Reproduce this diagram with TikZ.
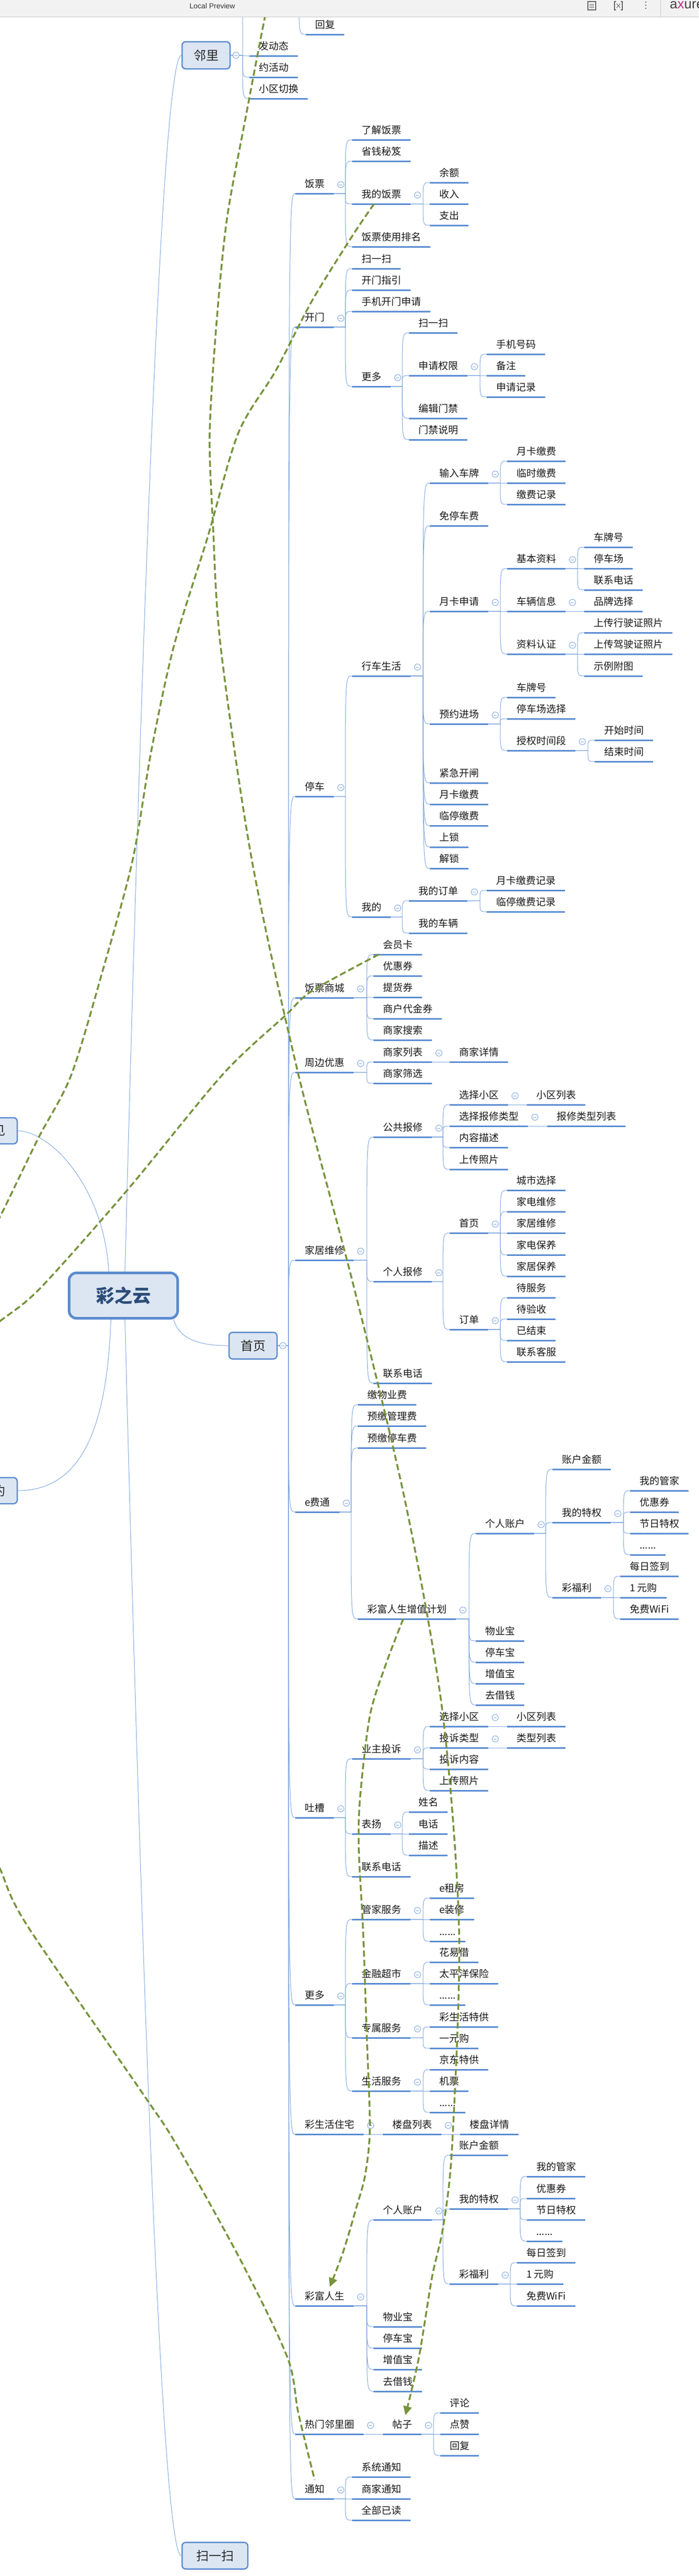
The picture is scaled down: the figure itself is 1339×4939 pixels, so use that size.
\documentclass[tikz,border=0pt]{standalone}
\usepackage{fontspec}
\setmainfont{Noto Sans CJK SC}
\newfontfamily\uifont{Liberation Sans}
\usetikzlibrary{arrows.meta}

\definecolor{ulblue}{HTML}{5A8CD2}
\definecolor{lnblue}{HTML}{80A8DE}
\definecolor{boxfill}{HTML}{DCE6F2}
\definecolor{boxline}{HTML}{5B8BD0}
\definecolor{roottext}{HTML}{2C4C78}
\definecolor{relgreen}{HTML}{77933C}
\definecolor{barfill}{HTML}{F2F2F2}
\definecolor{barline}{HTML}{C6C6C6}

\tikzset{
  topic/.style={anchor=south west, inner xsep=18pt, inner ysep=9pt, text height=16pt, text depth=2pt,
    font=\fontsize{19}{23}\selectfont, text=black!90,
    append after command={(\tikzlastnode.south west) edge[uline] (\tikzlastnode.south east)}},
  uline/.style={draw=ulblue, line width=3pt},
  conn/.style={draw=lnblue, line width=1pt},
  mainbox/.style={rectangle, rounded corners=7pt, draw=boxline, line width=2.5pt, fill=boxfill,
    font=\fontsize{24}{28}\selectfont, text=black!85},
  rootbox/.style={rectangle, rounded corners=14pt, draw=boxline, line width=5pt, fill=boxfill,
    minimum width=208pt, minimum height=87pt, font=\fontsize{35}{40}\selectfont\bfseries, text=roottext},
  fold/.style={draw=lnblue, fill=white, line width=1pt},
  rel/.style={draw=relgreen, line width=3.5pt, dash pattern=on 12pt off 6pt},
}

% parent -> child: along the underline, down the spine, curve into the child
\newcommand{\topiclink}[2]{\draw[conn] (#1) -- ([xshift=-13pt]#2.south west |- #1) .. controls ([xshift=-13pt]#2.south west) .. (#2.south west);}
% collapse button beside a parent topic
\newcommand{\foldmark}[1]{\draw[fold] ([shift={(13pt,17pt)}]#1.south east) circle[radius=6pt];
  \draw[draw=lnblue, line width=1pt] ([shift={(10pt,17pt)}]#1.south east) -- ++(6pt,0);}

\begin{document}
\begin{tikzpicture}[x=1pt, y=-1pt]
\clip (0,0) rectangle (1339,4939);
\fill[white] (0,0) rectangle (1339,4939);

% root and first level boxes
\node (root) [rootbox] at (236.5,2484) {彩之云};
\node (linli) [mainbox, minimum width=92pt, minimum height=52pt] at (395,106) {邻里};
\node (shouye) [mainbox, minimum width=92pt, minimum height=51pt] at (485,2580) {首页};
\node (saoyisao) [mainbox, minimum width=126pt, minimum height=51pt] at (412,4900) {扫一扫};
\node (yijian) [mainbox, minimum width=92pt, minimum height=50pt] at (-13,2168) {\hphantom{见}见};
\node (yuyue) [mainbox, minimum width=92pt, minimum height=50pt] at (-13,2858) {\hphantom{约}约};

% 邻里
\coordinate (lnhide) at (478,-40);
\node (fadongtai) [topic] at (478,107) {发动态};
\node (yuehuodong) [topic] at (478,148) {约活动};
\node (qiehuan) [topic] at (478,189) {小区切换};
\coordinate (tzhide) at (545,-30);
\node (huifutop) [topic] at (586,66) {回复};

% 饭票
\node (fanpiao) [topic] at (566,371) {饭票};
\node (liaojie) [topic] at (675,268) {了解饭票};
\node (shengqian) [topic] at (675,309) {省钱秘笈};
\node (wodefp) [topic] at (675,391) {我的饭票};
\node (paiming) [topic] at (675,473) {饭票使用排名};
\node (yuee) [topic] at (824,350) {余额};
\node (shouru) [topic] at (824,391) {收入};
\node (zhichu) [topic] at (824,432) {支出};

% 开门
\node (kaimen) [topic] at (566,627) {开门};
\node (kmsao) [topic] at (675,515) {扫一扫};
\node (kmzhiyin) [topic] at (675,556) {开门指引};
\node (kmshouji) [topic] at (675,597) {手机开门申请};
\node (kmmore) [topic] at (675,741) {更多};
\node (kmsao2) [topic] at (784,638) {扫一扫};
\node (quanxian) [topic] at (784,720) {申请权限};
\node (bianji) [topic] at (784,802) {编辑门禁};
\node (shuoming) [topic] at (784,843) {门禁说明};
\node (haoma) [topic] at (933,679) {手机号码};
\node (beizhu) [topic] at (933,720) {备注};
\node (sqjilu) [topic] at (933,761) {申请记录};

% 停车
\node (tingche) [topic] at (566,1527) {停车};
\node (xingche) [topic] at (675,1296) {行车生活};
\node (wode) [topic] at (675,1758) {我的};
\node (shuru) [topic] at (824,926) {输入车牌};
\node (mianting) [topic] at (824,1008) {免停车费};
\node (ykshenqing) [topic] at (824,1172) {月卡申请};
\node (yuyuejc) [topic] at (824,1388) {预约进场};
\node (jinji) [topic] at (824,1501) {紧急开闸};
\node (ykjiaofei) [topic] at (824,1542) {月卡缴费};
\node (ltjiaofei) [topic] at (824,1583) {临停缴费};
\node (shangsuo) [topic] at (824,1624) {上锁};
\node (jiesuo) [topic] at (824,1665) {解锁};
\node (srykjf) [topic] at (972,884) {月卡缴费};
\node (srlsjf) [topic] at (972,926) {临时缴费};
\node (srjfjl) [topic] at (972,967) {缴费记录};
\node (jiben) [topic] at (972,1090) {基本资料};
\node (cheliang) [topic] at (972,1172) {车辆信息};
\node (renzheng) [topic] at (972,1254) {资料认证};
\node (jbchepai) [topic] at (1120,1049) {车牌号};
\node (jbtcc) [topic] at (1120,1090) {停车场};
\node (jbdianhua) [topic] at (1120,1131) {联系电话};
\node (pinpai) [topic] at (1120,1172) {品牌选择};
\node (xingshi) [topic] at (1120,1213) {上传行驶证照片};
\node (jiashi) [topic] at (1120,1254) {上传驾驶证照片};
\node (shili) [topic] at (1120,1296) {示例附图};
\node (yychepai) [topic] at (972,1337) {车牌号};
\node (yytcc) [topic] at (972,1378) {停车场选择};
\node (shouquan) [topic] at (972,1439) {授权时间段};
\node (kaishi) [topic] at (1140,1419) {开始时间};
\node (jieshu) [topic] at (1140,1460) {结束时间};
\node (wddingdan) [topic] at (784,1727) {我的订单};
\node (wdcheliang) [topic] at (784,1789) {我的车辆};
\node (ykjilu) [topic] at (933,1707) {月卡缴费记录};
\node (ltjilu) [topic] at (933,1748) {临停缴费记录};

% 饭票商城
\node (fpshop) [topic] at (566,1913) {饭票商城};
\node (huiyuan) [topic] at (716,1830) {会员卡};
\node (youhui) [topic] at (716,1871) {优惠券};
\node (tihuo) [topic] at (716,1912) {提货券};
\node (daijin) [topic] at (716,1953) {商户代金券};
\node (sousuo) [topic] at (716,1994) {商家搜索};

% 周边优惠
\node (zhoubian) [topic] at (566,2056) {周边优惠};
\node (sjliebiao) [topic] at (716,2036) {商家列表};
\node (shaixuan) [topic] at (716,2077) {商家筛选};
\node (sjxiangqing) [topic] at (862,2036) {商家详情};

% 家居维修
\node (jiaju) [topic] at (566,2416) {家居维修};
\node (gonggong) [topic] at (716,2180) {公共报修};
\node (geren) [topic] at (716,2457) {个人报修};
\node (jjdianhua) [topic] at (716,2652) {联系电话};
\node (ggxiaoqu) [topic] at (862,2118) {选择小区};
\node (ggleixing) [topic] at (862,2159) {选择报修类型};
\node (ggneirong) [topic] at (862,2200) {内容描述};
\node (ggzhaopian) [topic] at (862,2242) {上传照片};
\node (ggxqlist) [topic] at (1010,2118) {小区列表};
\node (gglxlist) [topic] at (1049,2159) {报修类型列表};
\node (grshouye) [topic] at (862,2364) {首页};
\node (grdingdan) [topic] at (862,2549) {订单};
\node (chengshi) [topic] at (972,2282) {城市选择};
\node (jdweixiu) [topic] at (972,2323) {家电维修};
\node (jjweixiu) [topic] at (972,2364) {家居维修};
\node (jdbaoyang) [topic] at (972,2406) {家电保养};
\node (jjbaoyang) [topic] at (972,2447) {家居保养};
\node (daifuwu) [topic] at (972,2488) {待服务};
\node (daiyanshou) [topic] at (972,2529) {待验收};
\node (yijieshu) [topic] at (972,2570) {已结束};
\node (kefu) [topic] at (972,2611) {联系客服};

% e费通
\node (efeitong) [topic] at (566,2899) {e费通};
\node (wuyefei) [topic] at (686,2693) {缴物业费};
\node (guanlifei) [topic] at (686,2734) {预缴管理费};
\node (tingchefei) [topic] at (686,2776) {预缴停车费};
\node (zengzhi) [topic] at (686,3104) {彩富人生增值计划};
\node (zhanghu) [topic] at (912,2940) {个人账户};
\node (wuyebao) [topic] at (912,3146) {物业宝};
\node (tingchebao) [topic] at (912,3187) {停车宝};
\node (zengzhibao) [topic] at (912,3228) {增值宝};
\node (jieqian) [topic] at (912,3269) {去借钱};
\node (jine) [topic] at (1059,2817) {账户金额};
\node (tequan) [topic] at (1059,2919) {我的特权};
\node (fuli) [topic] at (1059,3063) {彩福利};
\node (guanjia) [topic] at (1208,2858) {我的管家};
\node (tqyouhui) [topic] at (1208,2899) {优惠券};
\node (jieri) [topic] at (1208,2940) {节日特权};
\node (tqmore) [topic] at (1208,2981) {......};
\node (qiandao) [topic] at (1189,3022) {每日签到};
\node (yiyuan) [topic] at (1189,3063) {1 元购};
\node (wifi) [topic] at (1189,3104) {免费WiFi};

% 吐槽
\node (tucao) [topic] at (566,3485) {吐槽};
\node (tousu) [topic] at (675,3372) {业主投诉};
\node (biaoyang) [topic] at (675,3516) {表扬};
\node (tcdianhua) [topic] at (675,3598) {联系电话};
\node (tsxiaoqu) [topic] at (824,3310) {选择小区};
\node (tsleixing) [topic] at (824,3351) {投诉类型};
\node (tsneirong) [topic] at (824,3392) {投诉内容};
\node (tszhaopian) [topic] at (824,3433) {上传照片};
\node (tsxqlist) [topic] at (972,3310) {小区列表};
\node (tslxlist) [topic] at (972,3351) {类型列表};
\node (xingming) [topic] at (784,3474) {姓名};
\node (byphone) [topic] at (784,3516) {电话};
\node (bymiaoshu) [topic] at (784,3557) {描述};

% 更多
\node (gengduo) [topic] at (566,3844) {更多};
\node (guanjiafw) [topic] at (675,3680) {管家服务};
\node (jinrong) [topic] at (675,3803) {金融超市};
\node (zhuanshu) [topic] at (675,3907) {专属服务};
\node (shenghuo) [topic] at (675,4009) {生活服务};
\node (zufang) [topic] at (824,3639) {e租房};
\node (zhuangxiu) [topic] at (824,3680) {e装修};
\node (gjmore) [topic] at (824,3722) {......};
\node (huayijie) [topic] at (824,3762) {花易借};
\node (baoxian) [topic] at (824,3803) {太平洋保险};
\node (jrmore) [topic] at (824,3844) {......};
\node (tegong) [topic] at (824,3886) {彩生活特供};
\node (yiyuangou) [topic] at (824,3927) {一元购};
\node (jingdong) [topic] at (824,3968) {京东特供};
\node (jipiao) [topic] at (824,4009) {机票};
\node (shmore) [topic] at (824,4050) {......};

% 彩生活住宅
\node (zhuzhai) [topic] at (566,4092) {彩生活住宅};
\node (loupan) [topic] at (734,4092) {楼盘列表};
\node (lpxiangqing) [topic] at (882,4092) {楼盘详情};

% 彩富人生
\node (caifu) [topic] at (566,4421) {彩富人生};
\node (zhanghu2) [topic] at (716,4256) {个人账户};
\node (wuyebao2) [topic] at (716,4461) {物业宝};
\node (tingchebao2) [topic] at (716,4502) {停车宝};
\node (zengzhibao2) [topic] at (716,4543) {增值宝};
\node (jieqian2) [topic] at (716,4585) {去借钱};
\node (jine2) [topic] at (862,4132) {账户金额};
\node (tequan2) [topic] at (862,4235) {我的特权};
\node (fuli2) [topic] at (862,4379) {彩福利};
\node (guanjia2) [topic] at (1010,4173) {我的管家};
\node (tqyouhui2) [topic] at (1010,4215) {优惠券};
\node (jieri2) [topic] at (1010,4256) {节日特权};
\node (tqmore2) [topic] at (1010,4297) {......};
\node (qiandao2) [topic] at (991,4338) {每日签到};
\node (yiyuan2) [topic] at (991,4379) {1 元购};
\node (wifi2) [topic] at (991,4421) {免费WiFi};

% 热门邻里圈
\node (remen) [topic] at (566,4667) {热门邻里圈};
\node (tiezi) [topic] at (734,4667) {帖子};
\node (pinglun) [topic] at (844,4626) {评论};
\node (dianzan) [topic] at (844,4667) {点赞};
\node (huifu) [topic] at (844,4708) {回复};

% 通知
\node (tongzhi) [topic] at (566,4791) {通知};
\node (xitong) [topic] at (675,4749) {系统通知};
\node (shangjia) [topic] at (675,4791) {商家通知};
\node (yidu) [topic] at (675,4832) {全部已读};

% root connectors
\draw[conn] ([xshift=3pt]root.north) .. controls (280,886) and (316,110) .. (linli.west);
\draw[conn] ([xshift=3pt]root.south) .. controls (280,4110) and (316,4900) .. (saoyisao.west);
\draw[conn] ([xshift=-10pt]root.south east) .. controls (345,2575) and (400,2580) .. (shouye.west);
\draw[conn] ([xshift=-28pt]root.north) .. controls (200,2280) and (100,2170) .. (yijian.east);
\draw[conn] ([xshift=-24pt]root.south) .. controls (205,2750) and (150,2858) .. (yuyue.east);

% 邻里 connectors
\draw[conn] (linli.east) -- ([xshift=-13pt]lnhide |- linli.east) .. controls ([xshift=-13pt]lnhide) .. (lnhide);
\topiclink{linli.east}{fadongtai}
\topiclink{linli.east}{yuehuodong}
\topiclink{linli.east}{qiehuan}
\topiclink{tzhide}{huifutop}

% 首页 connectors
\topiclink{shouye.east}{fanpiao}
\topiclink{shouye.east}{kaimen}
\topiclink{shouye.east}{tingche}
\topiclink{shouye.east}{fpshop}
\topiclink{shouye.east}{zhoubian}
\topiclink{shouye.east}{jiaju}
\topiclink{shouye.east}{efeitong}
\topiclink{shouye.east}{tucao}
\topiclink{shouye.east}{gengduo}
\topiclink{shouye.east}{zhuzhai}
\topiclink{shouye.east}{caifu}
\topiclink{shouye.east}{remen}
\topiclink{shouye.east}{tongzhi}

\topiclink{fanpiao.south east}{liaojie}
\topiclink{fanpiao.south east}{shengqian}
\topiclink{fanpiao.south east}{wodefp}
\topiclink{fanpiao.south east}{paiming}
\topiclink{wodefp.south east}{yuee}
\topiclink{wodefp.south east}{shouru}
\topiclink{wodefp.south east}{zhichu}

\topiclink{kaimen.south east}{kmsao}
\topiclink{kaimen.south east}{kmzhiyin}
\topiclink{kaimen.south east}{kmshouji}
\topiclink{kaimen.south east}{kmmore}
\topiclink{kmmore.south east}{kmsao2}
\topiclink{kmmore.south east}{quanxian}
\topiclink{kmmore.south east}{bianji}
\topiclink{kmmore.south east}{shuoming}
\topiclink{quanxian.south east}{haoma}
\topiclink{quanxian.south east}{beizhu}
\topiclink{quanxian.south east}{sqjilu}

\topiclink{tingche.south east}{xingche}
\topiclink{tingche.south east}{wode}
\topiclink{xingche.south east}{shuru}
\topiclink{xingche.south east}{mianting}
\topiclink{xingche.south east}{ykshenqing}
\topiclink{xingche.south east}{yuyuejc}
\topiclink{xingche.south east}{jinji}
\topiclink{xingche.south east}{ykjiaofei}
\topiclink{xingche.south east}{ltjiaofei}
\topiclink{xingche.south east}{shangsuo}
\topiclink{xingche.south east}{jiesuo}
\topiclink{shuru.south east}{srykjf}
\topiclink{shuru.south east}{srlsjf}
\topiclink{shuru.south east}{srjfjl}
\topiclink{ykshenqing.south east}{jiben}
\topiclink{ykshenqing.south east}{cheliang}
\topiclink{ykshenqing.south east}{renzheng}
\topiclink{jiben.south east}{jbchepai}
\topiclink{jiben.south east}{jbtcc}
\topiclink{jiben.south east}{jbdianhua}
\topiclink{cheliang.south east}{pinpai}
\topiclink{renzheng.south east}{xingshi}
\topiclink{renzheng.south east}{jiashi}
\topiclink{renzheng.south east}{shili}
\topiclink{yuyuejc.south east}{yychepai}
\topiclink{yuyuejc.south east}{yytcc}
\topiclink{yuyuejc.south east}{shouquan}
\topiclink{shouquan.south east}{kaishi}
\topiclink{shouquan.south east}{jieshu}
\topiclink{wode.south east}{wddingdan}
\topiclink{wode.south east}{wdcheliang}
\topiclink{wddingdan.south east}{ykjilu}
\topiclink{wddingdan.south east}{ltjilu}

\topiclink{fpshop.south east}{huiyuan}
\topiclink{fpshop.south east}{youhui}
\topiclink{fpshop.south east}{tihuo}
\topiclink{fpshop.south east}{daijin}
\topiclink{fpshop.south east}{sousuo}
\topiclink{zhoubian.south east}{sjliebiao}
\topiclink{zhoubian.south east}{shaixuan}
\topiclink{sjliebiao.south east}{sjxiangqing}

\topiclink{jiaju.south east}{gonggong}
\topiclink{jiaju.south east}{geren}
\topiclink{jiaju.south east}{jjdianhua}
\topiclink{gonggong.south east}{ggxiaoqu}
\topiclink{gonggong.south east}{ggleixing}
\topiclink{gonggong.south east}{ggneirong}
\topiclink{gonggong.south east}{ggzhaopian}
\topiclink{ggxiaoqu.south east}{ggxqlist}
\topiclink{ggleixing.south east}{gglxlist}
\topiclink{geren.south east}{grshouye}
\topiclink{geren.south east}{grdingdan}
\topiclink{grshouye.south east}{chengshi}
\topiclink{grshouye.south east}{jdweixiu}
\topiclink{grshouye.south east}{jjweixiu}
\topiclink{grshouye.south east}{jdbaoyang}
\topiclink{grshouye.south east}{jjbaoyang}
\topiclink{grdingdan.south east}{daifuwu}
\topiclink{grdingdan.south east}{daiyanshou}
\topiclink{grdingdan.south east}{yijieshu}
\topiclink{grdingdan.south east}{kefu}

\topiclink{efeitong.south east}{wuyefei}
\topiclink{efeitong.south east}{guanlifei}
\topiclink{efeitong.south east}{tingchefei}
\topiclink{efeitong.south east}{zengzhi}
\topiclink{zengzhi.south east}{zhanghu}
\topiclink{zengzhi.south east}{wuyebao}
\topiclink{zengzhi.south east}{tingchebao}
\topiclink{zengzhi.south east}{zengzhibao}
\topiclink{zengzhi.south east}{jieqian}
\topiclink{zhanghu.south east}{jine}
\topiclink{zhanghu.south east}{tequan}
\topiclink{zhanghu.south east}{fuli}
\topiclink{tequan.south east}{guanjia}
\topiclink{tequan.south east}{tqyouhui}
\topiclink{tequan.south east}{jieri}
\topiclink{tequan.south east}{tqmore}
\topiclink{fuli.south east}{qiandao}
\topiclink{fuli.south east}{yiyuan}
\topiclink{fuli.south east}{wifi}

\topiclink{tucao.south east}{tousu}
\topiclink{tucao.south east}{biaoyang}
\topiclink{tucao.south east}{tcdianhua}
\topiclink{tousu.south east}{tsxiaoqu}
\topiclink{tousu.south east}{tsleixing}
\topiclink{tousu.south east}{tsneirong}
\topiclink{tousu.south east}{tszhaopian}
\topiclink{tsxiaoqu.south east}{tsxqlist}
\topiclink{tsleixing.south east}{tslxlist}
\topiclink{biaoyang.south east}{xingming}
\topiclink{biaoyang.south east}{byphone}
\topiclink{biaoyang.south east}{bymiaoshu}

\topiclink{gengduo.south east}{guanjiafw}
\topiclink{gengduo.south east}{jinrong}
\topiclink{gengduo.south east}{zhuanshu}
\topiclink{gengduo.south east}{shenghuo}
\topiclink{guanjiafw.south east}{zufang}
\topiclink{guanjiafw.south east}{zhuangxiu}
\topiclink{guanjiafw.south east}{gjmore}
\topiclink{jinrong.south east}{huayijie}
\topiclink{jinrong.south east}{baoxian}
\topiclink{jinrong.south east}{jrmore}
\topiclink{zhuanshu.south east}{tegong}
\topiclink{zhuanshu.south east}{yiyuangou}
\topiclink{shenghuo.south east}{jingdong}
\topiclink{shenghuo.south east}{jipiao}
\topiclink{shenghuo.south east}{shmore}

\topiclink{zhuzhai.south east}{loupan}
\topiclink{loupan.south east}{lpxiangqing}

\topiclink{caifu.south east}{zhanghu2}
\topiclink{caifu.south east}{wuyebao2}
\topiclink{caifu.south east}{tingchebao2}
\topiclink{caifu.south east}{zengzhibao2}
\topiclink{caifu.south east}{jieqian2}
\topiclink{zhanghu2.south east}{jine2}
\topiclink{zhanghu2.south east}{tequan2}
\topiclink{zhanghu2.south east}{fuli2}
\topiclink{tequan2.south east}{guanjia2}
\topiclink{tequan2.south east}{tqyouhui2}
\topiclink{tequan2.south east}{jieri2}
\topiclink{tequan2.south east}{tqmore2}
\topiclink{fuli2.south east}{qiandao2}
\topiclink{fuli2.south east}{yiyuan2}
\topiclink{fuli2.south east}{wifi2}

\topiclink{remen.south east}{tiezi}
\topiclink{tiezi.south east}{pinglun}
\topiclink{tiezi.south east}{dianzan}
\topiclink{tiezi.south east}{huifu}

\topiclink{tongzhi.south east}{xitong}
\topiclink{tongzhi.south east}{shangjia}
\topiclink{tongzhi.south east}{yidu}

% collapse buttons
\draw[fold] ([xshift=10pt]linli.east) circle[radius=6pt];
\draw[draw=lnblue, line width=1pt] ([xshift=7pt]linli.east) -- ++(6pt,0);
\draw[fold] ([xshift=10pt]shouye.east) circle[radius=6pt];
\draw[draw=lnblue, line width=1pt] ([xshift=7pt]shouye.east) -- ++(6pt,0);
\foldmark{fanpiao} \foldmark{wodefp} \foldmark{kaimen} \foldmark{kmmore} \foldmark{quanxian}
\foldmark{tingche} \foldmark{xingche} \foldmark{shuru} \foldmark{ykshenqing} \foldmark{jiben}
\foldmark{cheliang} \foldmark{renzheng} \foldmark{yuyuejc} \foldmark{shouquan} \foldmark{wode}
\foldmark{wddingdan} \foldmark{fpshop} \foldmark{zhoubian} \foldmark{sjliebiao} \foldmark{jiaju}
\foldmark{gonggong} \foldmark{ggxiaoqu} \foldmark{ggleixing} \foldmark{geren} \foldmark{grshouye}
\foldmark{grdingdan} \foldmark{efeitong} \foldmark{zengzhi} \foldmark{zhanghu} \foldmark{tequan}
\foldmark{fuli} \foldmark{tucao} \foldmark{tousu} \foldmark{tsxiaoqu} \foldmark{tsleixing}
\foldmark{biaoyang} \foldmark{gengduo} \foldmark{guanjiafw} \foldmark{jinrong} \foldmark{zhuanshu}
\foldmark{shenghuo} \foldmark{zhuzhai} \foldmark{loupan} \foldmark{caifu} \foldmark{zhanghu2}
\foldmark{tequan2} \foldmark{fuli2} \foldmark{remen} \foldmark{tiezi} \foldmark{tongzhi}

% relationship lines
\coordinate (relAsrc) at (530,-60);
\coordinate (relAend) at ([xshift=6pt]tiezi.north);
\coordinate (relBsrc) at ([xshift=42pt]wodefp.south west);
\coordinate (relBend) at (-40,2405);
\coordinate (relCsrc) at ([xshift=10pt]huiyuan.south west);
\coordinate (relCend) at (-40,2565);
\coordinate (relDsrc) at ([xshift=87pt]zengzhi.south west);
\coordinate (relDend) at ([xshift=10pt]caifu.north);
\coordinate (relEsrc) at (-40,3500);
\coordinate (relEend) at (tongzhi.north);

\draw[rel, -{Triangle[length=17pt,width=16pt]}] plot[smooth] coordinates {(relAsrc) (508,32) (470,230) (435,420) (415,620) (402,830) (408,1000) (423,1240) (483,1650) (572,2060) (679,2470) (777,2880) (848,3280) (880,3700) (867,4110) (850,4267) (828,4367) (803,4520) (relAend)};
\draw[rel] plot[smooth] coordinates {(relBsrc) (675,453) (598,577) (529,710) (457,830) (398,1030) (333,1240) (290,1440) (254,1650) (200,1850) (137,2060) (73,2183) (0,2333) (relBend)};
\draw[rel] plot[smooth] coordinates {(relCsrc) (598,1900) (547,1947) (427,2060) (243,2283) (77,2470) (0,2533) (relCend)};
\draw[rel, -{Triangle[length=17pt,width=16pt]}] plot[smooth] coordinates {(relDsrc) (740,3190) (709,3290) (690,3450) (688,3550) (696,3700) (703,3900) (709,4080) (700,4170) (683,4233) (658,4317) (relDend)};
\draw[rel] plot[smooth] coordinates {(relEsrc) (0,3583) (51,3690) (273,4013) (337,4110) (461,4333) (551,4520) (572,4627) (relEend)};

% preview bar
\fill[barfill] (0,0) rectangle (1339,32);
\draw[barline, line width=1pt] (0,32) -- (1339,32);
\node (preview) [font=\uifont\fontsize{14}{16}\selectfont, text=black!80] at (407,11) {Local Preview};
\draw[black!60, line width=1.2pt] (1127,3) rectangle (1142,19);
\draw[black!60, line width=1pt] (1130,8) -- (1139,8);
\draw[black!60, line width=1pt] (1130,11) -- (1139,11);
\draw[black!60, line width=1pt] (1130,14) -- (1139,14);
\draw[black!60, line width=1.2pt] (1181,3) -- (1178,3) -- (1178,19) -- (1181,19);
\draw[black!60, line width=1.2pt] (1190,3) -- (1193,3) -- (1193,19) -- (1190,19);
\draw[black!60, line width=1pt] (1182,7) -- (1189,15);
\draw[black!60, line width=1pt] (1189,7) -- (1182,15);
\fill[black!60] (1238,4) circle[radius=1.3pt];
\fill[black!60] (1238,10) circle[radius=1.3pt];
\fill[black!60] (1238,16) circle[radius=1.3pt];
\draw[barline, line width=1pt] (1266,0) -- (1266,32);
\node (logo) [anchor=west, inner sep=0pt, font=\uifont\fontsize{26}{28}\selectfont, text=black!75] at (1284,10) {a\textcolor{magenta!80!black}{x}ure};
\end{tikzpicture}
\end{document}
